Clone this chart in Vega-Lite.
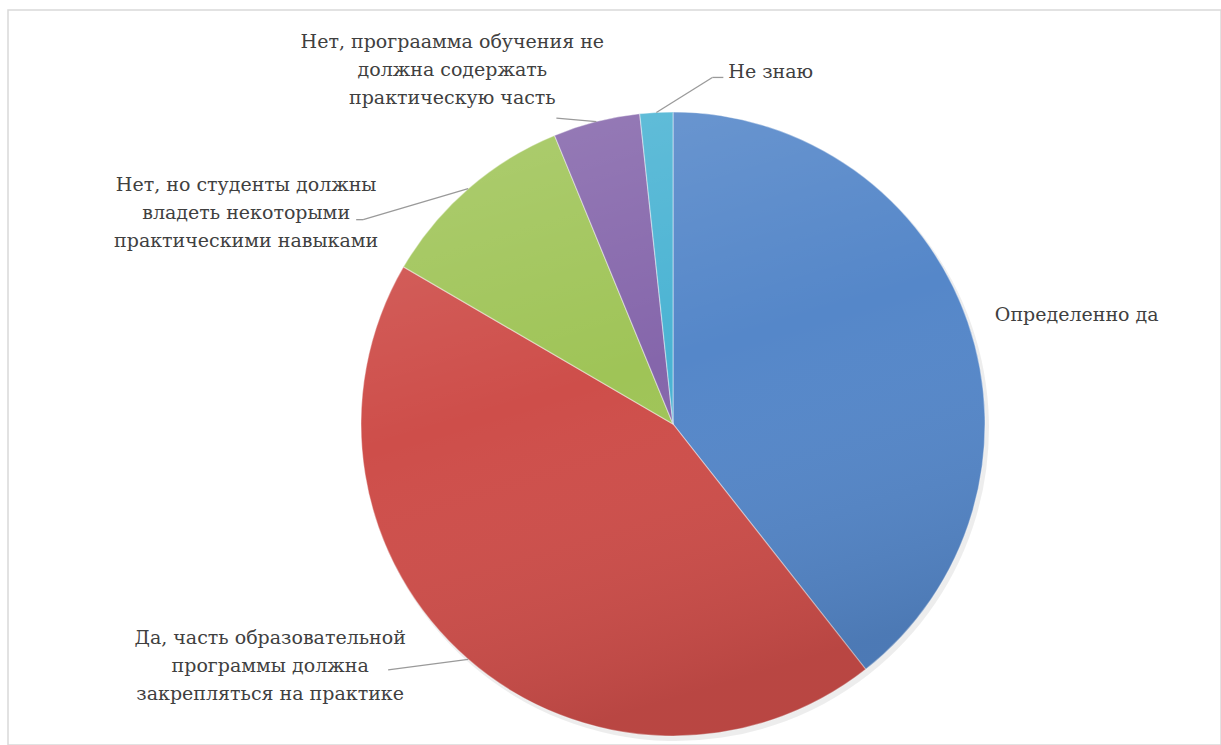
{
  "$schema": "https://vega.github.io/schema/vega-lite/v6.json",
  "width": 1213,
  "height": 735,
  "autosize": {"type": "none"},
  "padding": {"left": 8, "top": 10, "right": 0, "bottom": 0},
  "background": "white",
  "config": {"view": {"stroke": "#D9D9D9", "strokeWidth": 1.5}, "text": {"font": "DejaVu Serif", "fontSize": 19, "color": "#404040", "lineBreak": "\n", "lineHeight": 28, "baseline": "middle"}},
  "data": {"values": [
    {"answer": "Определенно да", "share": 39.4},
    {"answer": "Да, часть образовательной\nпрограммы должна\nзакрепляться на практике", "share": 44.0},
    {"answer": "Нет, но студенты должны\nвладеть некоторыми\nпрактическими навыками", "share": 10.4},
    {"answer": "Нет, програамма обучения не\nдолжна содержать\nпрактическую часть", "share": 4.5},
    {"answer": "Не знаю", "share": 1.7}
  ]},
  "transform": [
    {"window": [{"op": "row_number", "as": "k"}]},
    {"stack": "share", "groupby": [], "as": ["s0", "s1"], "sort": [{"field": "k", "order": "ascending"}]},
    {"calculate": "PI * (datum.s0 + datum.s1) / 100", "as": "mid"},
    {"calculate": "665 + 312 * sin(datum.mid)", "as": "ex"},
    {"calculate": "414 - 312 * cos(datum.mid)", "as": "ey"}
  ],
  "layer": [
    {
      "mark": {"type": "arc", "outerRadius": 313, "x": 668, "y": 418, "fill": "#000000", "fillOpacity": 0.07},
      "encoding": {
        "theta": {"field": "s0", "type": "quantitative", "scale": {"domain": [0, 100]}},
        "theta2": {"field": "s1"}
      }
    },
    {
      "mark": {"type": "arc", "outerRadius": 312, "x": 665, "y": 414, "stroke": "#ffffff", "strokeOpacity": 0.4, "strokeWidth": 1.2},
      "encoding": {
        "theta": {"field": "s0", "type": "quantitative", "scale": {"domain": [0, 100]}},
        "theta2": {"field": "s1"},
        "color": {
          "field": "answer", "type": "nominal", "legend": null,
          "scale": {
            "domain": [
              "Определенно да",
              "Да, часть образовательной\nпрограммы должна\nзакрепляться на практике",
              "Нет, но студенты должны\nвладеть некоторыми\nпрактическими навыками",
              "Нет, програамма обучения не\nдолжна содержать\nпрактическую часть",
              "Не знаю"
            ],
            "range": ["#5587C9", "#CE4E4A", "#9FC457", "#8566AB", "#4AB3D3"]
          }
        }
      }
    },
    {
      "data": {"values": [{"overlay": "shade"}]},
      "mark": {
        "type": "arc", "outerRadius": 312, "x": 665, "y": 414, "theta": 0, "theta2": 6.2832,
        "fill": {
          "gradient": "linear", "x1": 0, "y1": 0, "x2": 0.3, "y2": 1,
          "stops": [
            {"offset": 0, "color": "rgba(255,255,255,0.16)"},
            {"offset": 0.5, "color": "rgba(255,255,255,0.0)"},
            {"offset": 1, "color": "rgba(0,0,0,0.10)"}
          ]
        }
      },
      "encoding": {}
    },
    {
      "transform": [
        {"filter": "datum.k == 2"},
        {"calculate": "datum.ex - 80", "as": "lx"},
        {"calculate": "datum.ey + 10.5", "as": "ly"}
      ],
      "mark": {"type": "rule", "color": "#9A9A9A", "strokeWidth": 1.3},
      "encoding": {
        "x": {"field": "ex", "type": "quantitative", "scale": null},
        "y": {"field": "ey", "type": "quantitative", "scale": null},
        "x2": {"field": "lx"},
        "y2": {"field": "ly"}
      }
    },
    {
      "transform": [
        {"filter": "datum.k == 3"},
        {"calculate": "datum.ex - 105", "as": "lx"},
        {"calculate": "datum.ey + 31", "as": "ly"}
      ],
      "mark": {"type": "rule", "color": "#9A9A9A", "strokeWidth": 1.3},
      "encoding": {
        "x": {"field": "ex", "type": "quantitative", "scale": null},
        "y": {"field": "ey", "type": "quantitative", "scale": null},
        "x2": {"field": "lx"},
        "y2": {"field": "ly"}
      }
    },
    {
      "transform": [
        {"filter": "datum.k == 3"},
        {"calculate": "datum.ex - 105", "as": "lx"},
        {"calculate": "datum.ex - 112", "as": "tx"},
        {"calculate": "datum.ey + 31", "as": "ly"}
      ],
      "mark": {"type": "rule", "color": "#9A9A9A", "strokeWidth": 1.3},
      "encoding": {
        "x": {"field": "lx", "type": "quantitative", "scale": null},
        "y": {"field": "ly", "type": "quantitative", "scale": null},
        "x2": {"field": "tx"},
        "y2": {"field": "ly"}
      }
    },
    {
      "transform": [
        {"filter": "datum.k == 4"},
        {"calculate": "datum.ex - 40", "as": "lx"},
        {"calculate": "datum.ey - 3.5", "as": "ly"}
      ],
      "mark": {"type": "rule", "color": "#9A9A9A", "strokeWidth": 1.3},
      "encoding": {
        "x": {"field": "ex", "type": "quantitative", "scale": null},
        "y": {"field": "ey", "type": "quantitative", "scale": null},
        "x2": {"field": "lx"},
        "y2": {"field": "ly"}
      }
    },
    {
      "transform": [
        {"filter": "datum.k == 5"},
        {"calculate": "datum.ex + 56", "as": "lx"},
        {"calculate": "datum.ey - 35", "as": "ly"}
      ],
      "mark": {"type": "rule", "color": "#9A9A9A", "strokeWidth": 1.3},
      "encoding": {
        "x": {"field": "ex", "type": "quantitative", "scale": null},
        "y": {"field": "ey", "type": "quantitative", "scale": null},
        "x2": {"field": "lx"},
        "y2": {"field": "ly"}
      }
    },
    {
      "transform": [
        {"filter": "datum.k == 5"},
        {"calculate": "datum.ex + 56", "as": "lx"},
        {"calculate": "datum.ex + 67", "as": "tx"},
        {"calculate": "datum.ey - 35", "as": "ly"}
      ],
      "mark": {"type": "rule", "color": "#9A9A9A", "strokeWidth": 1.3},
      "encoding": {
        "x": {"field": "lx", "type": "quantitative", "scale": null},
        "y": {"field": "ly", "type": "quantitative", "scale": null},
        "x2": {"field": "tx"},
        "y2": {"field": "ly"}
      }
    },
    {
      "transform": [{"filter": "datum.k == 1"}],
      "mark": {"type": "text", "align": "left", "dx": 27, "dy": -7},
      "encoding": {
        "x": {"field": "ex", "type": "quantitative", "scale": null},
        "y": {"field": "ey", "type": "quantitative", "scale": null},
        "text": {"field": "answer"}
      }
    },
    {
      "transform": [{"filter": "datum.k == 2"}],
      "mark": {"type": "text", "align": "center", "dx": -198, "dy": -21.5},
      "encoding": {
        "x": {"field": "ex", "type": "quantitative", "scale": null},
        "y": {"field": "ey", "type": "quantitative", "scale": null},
        "text": {"field": "answer"}
      }
    },
    {
      "transform": [{"filter": "datum.k == 3"}],
      "mark": {"type": "text", "align": "center", "dx": -222, "dy": -3.7},
      "encoding": {
        "x": {"field": "ex", "type": "quantitative", "scale": null},
        "y": {"field": "ey", "type": "quantitative", "scale": null},
        "text": {"field": "answer"}
      }
    },
    {
      "transform": [{"filter": "datum.k == 4"}],
      "mark": {"type": "text", "align": "center", "dx": -144, "dy": -79.5},
      "encoding": {
        "x": {"field": "ex", "type": "quantitative", "scale": null},
        "y": {"field": "ey", "type": "quantitative", "scale": null},
        "text": {"field": "answer"}
      }
    },
    {
      "transform": [{"filter": "datum.k == 5"}],
      "mark": {"type": "text", "align": "left", "dx": 72, "dy": -40},
      "encoding": {
        "x": {"field": "ex", "type": "quantitative", "scale": null},
        "y": {"field": "ey", "type": "quantitative", "scale": null},
        "text": {"field": "answer"}
      }
    }
  ]
}
